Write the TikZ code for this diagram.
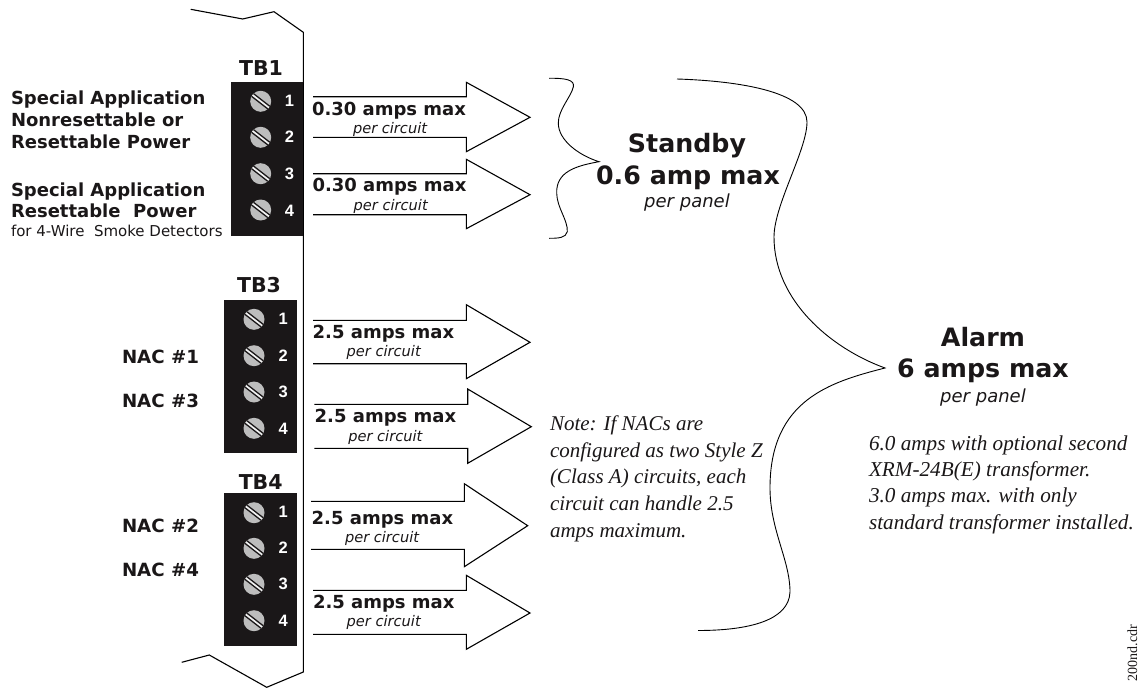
\documentclass[tikz,border=0pt]{standalone}
\usepackage{fontspec}
\setmainfont{DejaVu Sans}
\newfontfamily\noteface{Liberation Serif}
\newfontfamily\digitface{Liberation Sans}
\newcommand{\fsz}[1]{\fontsize{#1}{#1}\selectfont}
\definecolor{ink}{HTML}{1A1718}
\definecolor{screwgray}{HTML}{BDBDBD}
\tikzset{
  txt/.style={inner sep=0pt,outer sep=0pt,text=ink},
  tblabel/.style={txt,anchor=base,font=\fsz{20.5}\bfseries},
  sidelabel/.style={txt,anchor=base west,font=\fsz{18}\bfseries},
  naclabel/.style={txt,anchor=base west,font=\fsz{18.2}\bfseries},
  ampslabel/.style={txt,anchor=base west,font=\fsz{18}\bfseries},
  perlabel/.style={txt,anchor=base west,font=\fsz{14.6}\itshape},
  biglabel/.style={txt,anchor=base,font=\fsz{25.3}\bfseries},
  panellabel/.style={txt,anchor=base,font=\fsz{18}\itshape},
  notelabel/.style={txt,anchor=base west,font=\noteface\fsz{21}\itshape},
  numlabel/.style={inner sep=0pt,text=white,anchor=center,font=\digitface\fsz{16.5}\bfseries},
  outline/.style={draw=black,line width=1.1pt,line join=miter},
  brace/.style={draw=black,line width=0.9pt},
  tbox/.style={fill=ink,draw=none},
}
% #1 x, #2 y
\newcommand{\screw}[2]{%
  \begin{scope}[shift={(#1,#2)}]
    \fill[screwgray] (0,0) circle[radius=10.5];
    \clip (0,0) circle[radius=10.5];
    \draw[ink,line width=4.6pt] (-9,-7) -- (9,7);
    \draw[white!90!gray,line width=1.7pt] (-9,-7) -- (9,7);
  \end{scope}
}
% x0 neck tip topTail botTail headTop headBot tipY
\newcommand{\bigarrow}[8]{%
  \draw[outline] (#1,#4) -- (#2,#4) -- (#2,#6) -- (#3,#8) -- (#2,#7) -- (#2,#5) -- (#1,#5);
}
\begin{document}
\begin{tikzpicture}[x=1pt,y=-1pt]
\useasboundingbox (0,0) rectangle (1138,688);
% panel outline
\draw[outline] (190.7,9.3) -- (242.7,19) -- (274,11.7) -- (303.3,32.3) -- (303.3,672) -- (266.7,687.3) -- (209.3,655) -- (181.7,662.3);
% terminal blocks
\fill[tbox] (231,82.3) rectangle (303.3,235.7);
\fill[tbox] (224,300) rectangle (297.3,453.3);
\fill[tbox] (224,493) rectangle (297.3,645.7);
\screw{260.7}{101.3}\screw{260.7}{137.3}\screw{260.7}{173.7}\screw{260.7}{210}
\screw{254}{319.3}\screw{254}{355.7}\screw{254}{392}\screw{254}{428.3}
\screw{254}{512.7}\screw{254}{548.3}\screw{254}{584.3}\screw{254}{620.7}
\node[numlabel] (n11) at (289.5,101) {1};
\node[numlabel] (n12) at (289.5,137) {2};
\node[numlabel] (n13) at (289.5,174) {3};
\node[numlabel] (n14) at (289.5,211) {4};
\node[numlabel] (n31) at (283.3,319) {1};
\node[numlabel] (n32) at (283.3,355.5) {2};
\node[numlabel] (n33) at (283.3,392) {3};
\node[numlabel] (n34) at (283.3,429) {4};
\node[numlabel] (n41) at (283.3,512) {1};
\node[numlabel] (n42) at (283.3,548) {2};
\node[numlabel] (n43) at (283.3,584) {3};
\node[numlabel] (n44) at (283.3,621) {4};
\node[tblabel] (tb1) at (261,75) {TB1};
\node[tblabel] (tb3) at (259,292.5) {TB3};
\node[tblabel] (tb4) at (260.7,489) {TB4};
% left labels
\node[sidelabel] (s1) at (11,104) {Special Application};
\node[sidelabel] (s2) at (11,126) {Nonresettable or};
\node[sidelabel] (s3) at (11,148.3) {Resettable Power};
\node[sidelabel] (s4) at (11,196) {Special Application};
\node[sidelabel] (s5) at (11,217.7) {Resettable\ \ Power};
\node[txt,anchor=base west,font=\fsz{15}] (s6) at (11,236.7) {for 4-Wire\ \ Smoke Detectors};
\node[naclabel] (nac1) at (122,363.3) {NAC \#1};
\node[naclabel] (nac3) at (122,407.7) {NAC \#3};
\node[naclabel] (nac2) at (122,532.7) {NAC \#2};
\node[naclabel] (nac4) at (122,576.7) {NAC \#4};
% arrows
\bigarrow{313}{466.3}{530}{96.7}{137.3}{82.3}{151.7}{117.3}
\bigarrow{313}{466.3}{530}{173.7}{214.7}{159.3}{228.7}{194.7}
\bigarrow{313}{466.3}{530}{320.3}{363.7}{304.7}{378.7}{342.3}
\bigarrow{314.3}{467.7}{531.3}{404.3}{448.3}{389}{463.3}{426.7}
\bigarrow{311}{464.3}{527.7}{501.3}{549.3}{483.7}{566.7}{525.7}
\bigarrow{313}{466.3}{530}{590.3}{634.3}{575.3}{649.3}{613}
\node[ampslabel] (a1) at (312,115) {0.30 amps max};
\node[perlabel] (p1) at (353,133.3) {per circuit};
\node[ampslabel] (a2) at (312.5,191.7) {0.30 amps max};
\node[perlabel] (p2) at (353.7,210) {per circuit};
\node[ampslabel] (a3) at (312.7,338.3) {2.5 amps max};
\node[perlabel] (p3) at (346.7,356.7) {per circuit};
\node[ampslabel] (a4) at (314.7,422.7) {2.5 amps max};
\node[perlabel] (p4) at (348.3,441) {per circuit};
\node[ampslabel] (a5) at (311.7,524) {2.5 amps max};
\node[perlabel] (p5) at (345,542.3) {per circuit};
\node[ampslabel] (a6) at (313,608.3) {2.5 amps max};
\node[perlabel] (p6) at (346.7,626.7) {per circuit};
% braces
\draw[brace] (549,78.3) .. controls (566,78) and (575,80) .. (573.3,87)
  .. controls (571,97) and (558,110) .. (558.3,123.3)
  .. controls (558.5,140) and (578,155) .. (599,161.7)
  .. controls (575,166) and (556,172) .. (556.7,193.3)
  .. controls (557,208) and (568,220) .. (567.3,231.7)
  .. controls (566,238) and (558,238.3) .. (549,238.3);
\draw[brace] (677,79) .. controls (740,81) and (807,92) .. (807,122)
  .. controls (807,150) and (774,205) .. (774,237)
  .. controls (774,300) and (830,348) .. (885,368)
  .. controls (830,382) and (770,400) .. (770,488)
  .. controls (770,530) and (790,560) .. (790,592)
  .. controls (789,620) and (750,630.5) .. (698,630.5);
% totals
\node[biglabel] (st1) at (687,152.3) {Standby};
\node[biglabel] (st2) at (688,184) {0.6 amp max};
\node[panellabel] (st3) at (687,207) {per panel};
\node[biglabel] (al1) at (983,346.7) {Alarm};
\node[biglabel] (al2) at (983,377.3) {6 amps max};
\node[panellabel] (al3) at (983,402.7) {per panel};
% notes
\node[notelabel] (k1) at (550,430) {Note: If NACs are};
\node[notelabel] (k2) at (550,457) {configured as two Style Z};
\node[notelabel] (k3) at (550,483.5) {(Class A) circuits, each};
\node[notelabel] (k4) at (550,510.5) {circuit can handle 2.5};
\node[notelabel] (k5) at (550,537) {amps maximum.};
\node[notelabel,font=\noteface\fsz{21.2}\itshape] (r1) at (869,450) {6.0 amps with optional second};
\node[notelabel,font=\noteface\fsz{21.2}\itshape] (r2) at (869,476.5) {XRM-24B(E) transformer.};
\node[notelabel,font=\noteface\fsz{21.2}\itshape] (r3) at (869,502.5) {3.0 amps max. with only};
\node[notelabel,font=\noteface\fsz{21.2}\itshape] (r4) at (869,529) {standard transformer installed.};
\node[txt,anchor=base east,rotate=90,font=\noteface\fsz{14}] (f) at (1137,625) {200nd.cdr};
\end{tikzpicture}
\end{document}
